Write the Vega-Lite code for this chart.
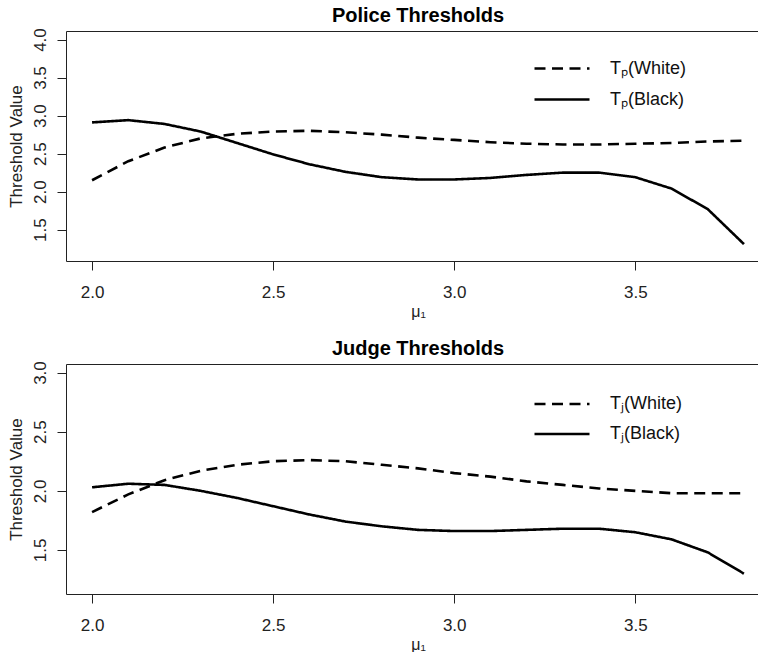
{
  "$schema": "https://vega.github.io/schema/vega-lite/v6.json",
  "autosize": {"type": "pad"},
  "padding": {"left": 7, "top": 5, "right": 0, "bottom": 0},
  "background": "white",
  "bounds": "flush",
  "spacing": 103,
  "config": {
    "font": "Liberation Sans",
    "view": {"stroke": null},
    "axis": {
      "domain": true, "domainColor": "#222", "domainWidth": 1, "grid": false, "tickColor": "#222", "tickSize": 9, "tickWidth": 1,
      "labelFont": "Liberation Sans", "labelFontSize": 17, "labelColor": "#222",
      "titleFont": "Liberation Sans", "titleFontSize": 17, "titleFontWeight": "normal", "titleColor": "#222"
    },
    "title": {"font": "Liberation Sans", "fontSize": 20, "fontWeight": "bold", "color": "#000", "anchor": "middle", "offset": 2, "dx": 6},
    "legend": {"labelFont": "Liberation Sans", "labelFontSize": 18, "labelColor": "#111"}
  },
  "datasets": {
    "police": [
      {"mu": 2.0, "series": "Tₚ(White)", "value": 2.15},
      {"mu": 2.1, "series": "Tₚ(White)", "value": 2.40},
      {"mu": 2.2, "series": "Tₚ(White)", "value": 2.58},
      {"mu": 2.3, "series": "Tₚ(White)", "value": 2.70},
      {"mu": 2.4, "series": "Tₚ(White)", "value": 2.76},
      {"mu": 2.5, "series": "Tₚ(White)", "value": 2.79},
      {"mu": 2.6, "series": "Tₚ(White)", "value": 2.80},
      {"mu": 2.7, "series": "Tₚ(White)", "value": 2.78},
      {"mu": 2.8, "series": "Tₚ(White)", "value": 2.75},
      {"mu": 2.9, "series": "Tₚ(White)", "value": 2.71},
      {"mu": 3.0, "series": "Tₚ(White)", "value": 2.68},
      {"mu": 3.1, "series": "Tₚ(White)", "value": 2.65},
      {"mu": 3.2, "series": "Tₚ(White)", "value": 2.63},
      {"mu": 3.3, "series": "Tₚ(White)", "value": 2.62},
      {"mu": 3.4, "series": "Tₚ(White)", "value": 2.62},
      {"mu": 3.5, "series": "Tₚ(White)", "value": 2.63},
      {"mu": 3.6, "series": "Tₚ(White)", "value": 2.64},
      {"mu": 3.7, "series": "Tₚ(White)", "value": 2.66},
      {"mu": 3.8, "series": "Tₚ(White)", "value": 2.67},
      {"mu": 2.0, "series": "Tₚ(Black)", "value": 2.91},
      {"mu": 2.1, "series": "Tₚ(Black)", "value": 2.94},
      {"mu": 2.2, "series": "Tₚ(Black)", "value": 2.89},
      {"mu": 2.3, "series": "Tₚ(Black)", "value": 2.79},
      {"mu": 2.4, "series": "Tₚ(Black)", "value": 2.64},
      {"mu": 2.5, "series": "Tₚ(Black)", "value": 2.49},
      {"mu": 2.6, "series": "Tₚ(Black)", "value": 2.36},
      {"mu": 2.7, "series": "Tₚ(Black)", "value": 2.26},
      {"mu": 2.8, "series": "Tₚ(Black)", "value": 2.19},
      {"mu": 2.9, "series": "Tₚ(Black)", "value": 2.16},
      {"mu": 3.0, "series": "Tₚ(Black)", "value": 2.16},
      {"mu": 3.1, "series": "Tₚ(Black)", "value": 2.18},
      {"mu": 3.2, "series": "Tₚ(Black)", "value": 2.22},
      {"mu": 3.3, "series": "Tₚ(Black)", "value": 2.25},
      {"mu": 3.4, "series": "Tₚ(Black)", "value": 2.25},
      {"mu": 3.5, "series": "Tₚ(Black)", "value": 2.19},
      {"mu": 3.6, "series": "Tₚ(Black)", "value": 2.04},
      {"mu": 3.7, "series": "Tₚ(Black)", "value": 1.77},
      {"mu": 3.8, "series": "Tₚ(Black)", "value": 1.31}
    ],
    "judge": [
      {"mu": 2.0, "series": "Tⱼ(White)", "value": 1.82},
      {"mu": 2.1, "series": "Tⱼ(White)", "value": 1.97},
      {"mu": 2.2, "series": "Tⱼ(White)", "value": 2.09},
      {"mu": 2.3, "series": "Tⱼ(White)", "value": 2.17},
      {"mu": 2.4, "series": "Tⱼ(White)", "value": 2.22},
      {"mu": 2.5, "series": "Tⱼ(White)", "value": 2.25},
      {"mu": 2.6, "series": "Tⱼ(White)", "value": 2.26},
      {"mu": 2.7, "series": "Tⱼ(White)", "value": 2.25},
      {"mu": 2.8, "series": "Tⱼ(White)", "value": 2.22},
      {"mu": 2.9, "series": "Tⱼ(White)", "value": 2.19},
      {"mu": 3.0, "series": "Tⱼ(White)", "value": 2.15},
      {"mu": 3.1, "series": "Tⱼ(White)", "value": 2.12},
      {"mu": 3.2, "series": "Tⱼ(White)", "value": 2.08},
      {"mu": 3.3, "series": "Tⱼ(White)", "value": 2.05},
      {"mu": 3.4, "series": "Tⱼ(White)", "value": 2.02},
      {"mu": 3.5, "series": "Tⱼ(White)", "value": 2.00},
      {"mu": 3.6, "series": "Tⱼ(White)", "value": 1.98},
      {"mu": 3.7, "series": "Tⱼ(White)", "value": 1.98},
      {"mu": 3.8, "series": "Tⱼ(White)", "value": 1.98},
      {"mu": 2.0, "series": "Tⱼ(Black)", "value": 2.03},
      {"mu": 2.1, "series": "Tⱼ(Black)", "value": 2.06},
      {"mu": 2.2, "series": "Tⱼ(Black)", "value": 2.05},
      {"mu": 2.3, "series": "Tⱼ(Black)", "value": 2.00},
      {"mu": 2.4, "series": "Tⱼ(Black)", "value": 1.94},
      {"mu": 2.5, "series": "Tⱼ(Black)", "value": 1.87},
      {"mu": 2.6, "series": "Tⱼ(Black)", "value": 1.80},
      {"mu": 2.7, "series": "Tⱼ(Black)", "value": 1.74},
      {"mu": 2.8, "series": "Tⱼ(Black)", "value": 1.70},
      {"mu": 2.9, "series": "Tⱼ(Black)", "value": 1.67},
      {"mu": 3.0, "series": "Tⱼ(Black)", "value": 1.66},
      {"mu": 3.1, "series": "Tⱼ(Black)", "value": 1.66},
      {"mu": 3.2, "series": "Tⱼ(Black)", "value": 1.67},
      {"mu": 3.3, "series": "Tⱼ(Black)", "value": 1.68},
      {"mu": 3.4, "series": "Tⱼ(Black)", "value": 1.68},
      {"mu": 3.5, "series": "Tⱼ(Black)", "value": 1.65},
      {"mu": 3.6, "series": "Tⱼ(Black)", "value": 1.59},
      {"mu": 3.7, "series": "Tⱼ(Black)", "value": 1.48},
      {"mu": 3.8, "series": "Tⱼ(Black)", "value": 1.30}
    ]
  },
  "resolve": {
    "scale": {"x": "independent", "y": "independent", "strokeDash": "independent"},
    "legend": {"strokeDash": "independent"}
  },
  "vconcat": [
    {
      "title": {"text": "Police Thresholds"},
      "width": 692,
      "height": 230,
      "data": {"name": "police"},
      "resolve": {"axis": {"x": "independent", "y": "independent"}},
      "layer": [
        {
          "mark": {"type": "line", "color": "#000", "strokeWidth": 2.6, "strokeCap": "butt"},
          "encoding": {
            "x": {"field": "mu", "type": "quantitative",
                  "scale": {"domain": [1.928, 3.8388], "nice": false, "zero": false},
                  "axis": {"values": [2.0, 2.5, 3.0, 3.5], "format": ".1f", "title": "μ₁", "labelPadding": 14, "titleX": 352, "titleY": 50, "titleBaseline": "middle", "titleFontSize": 16}},
            "y": {"field": "value", "type": "quantitative",
                  "scale": {"domain": [1.088, 4.112], "nice": false, "zero": false},
                  "axis": {"values": [1.5, 2.0, 2.5, 3.0, 3.5, 4.0], "format": ".1f", "title": "Threshold Value", "labelAngle": 270, "labelAlign": "center", "labelBaseline": "bottom", "labelPadding": 8, "titleX": -50, "titleY": 115, "titleBaseline": "middle"}},
            "strokeDash": {"field": "series", "type": "nominal",
                  "scale": {"domain": ["Tₚ(White)", "Tₚ(Black)"], "range": [[11, 6.5], [1, 0]]},
                  "legend": {"title": null, "orient": "none", "legendX": 467, "legendY": 22, "padding": 0, "symbolType": "stroke", "symbolSize": 3025, "symbolStrokeWidth": 2.6, "symbolStrokeColor": "#000", "clipHeight": 31, "rowPadding": 0, "labelOffset": 19}},
            "order": {"field": "mu", "type": "quantitative"}
          }
        },
        {
          "mark": {"type": "line", "strokeOpacity": 0},
          "encoding": {
            "x": {"field": "mu", "type": "quantitative", "axis": {"orient": "top", "labels": false, "ticks": false, "title": null}},
            "y": {"field": "value", "type": "quantitative", "axis": null},
            "detail": {"field": "series"}
          }
        }
      ]
    },
    {
      "title": {"text": "Judge Thresholds"},
      "width": 692,
      "height": 230,
      "data": {"name": "judge"},
      "resolve": {"axis": {"x": "independent", "y": "independent"}},
      "layer": [
        {
          "mark": {"type": "line", "color": "#000", "strokeWidth": 2.6, "strokeCap": "butt"},
          "encoding": {
            "x": {"field": "mu", "type": "quantitative",
                  "scale": {"domain": [1.928, 3.8388], "nice": false, "zero": false},
                  "axis": {"values": [2.0, 2.5, 3.0, 3.5], "format": ".1f", "title": "μ₁", "labelPadding": 14, "titleX": 352, "titleY": 50, "titleBaseline": "middle", "titleFontSize": 16}},
            "y": {"field": "value", "type": "quantitative",
                  "scale": {"domain": [1.128, 3.072], "nice": false, "zero": false},
                  "axis": {"values": [1.5, 2.0, 2.5, 3.0], "format": ".1f", "title": "Threshold Value", "labelAngle": 270, "labelAlign": "center", "labelBaseline": "bottom", "labelPadding": 8, "titleX": -50, "titleY": 115, "titleBaseline": "middle"}},
            "strokeDash": {"field": "series", "type": "nominal",
                  "scale": {"domain": ["Tⱼ(White)", "Tⱼ(Black)"], "range": [[11, 6.5], [1, 0]]},
                  "legend": {"title": null, "orient": "none", "legendX": 467, "legendY": 25, "padding": 0, "symbolType": "stroke", "symbolSize": 3025, "symbolStrokeWidth": 2.6, "symbolStrokeColor": "#000", "clipHeight": 30, "rowPadding": 0, "labelOffset": 19}},
            "order": {"field": "mu", "type": "quantitative"}
          }
        },
        {
          "mark": {"type": "line", "strokeOpacity": 0},
          "encoding": {
            "x": {"field": "mu", "type": "quantitative", "axis": {"orient": "top", "labels": false, "ticks": false, "title": null}},
            "y": {"field": "value", "type": "quantitative", "axis": null},
            "detail": {"field": "series"}
          }
        }
      ]
    }
  ]
}
